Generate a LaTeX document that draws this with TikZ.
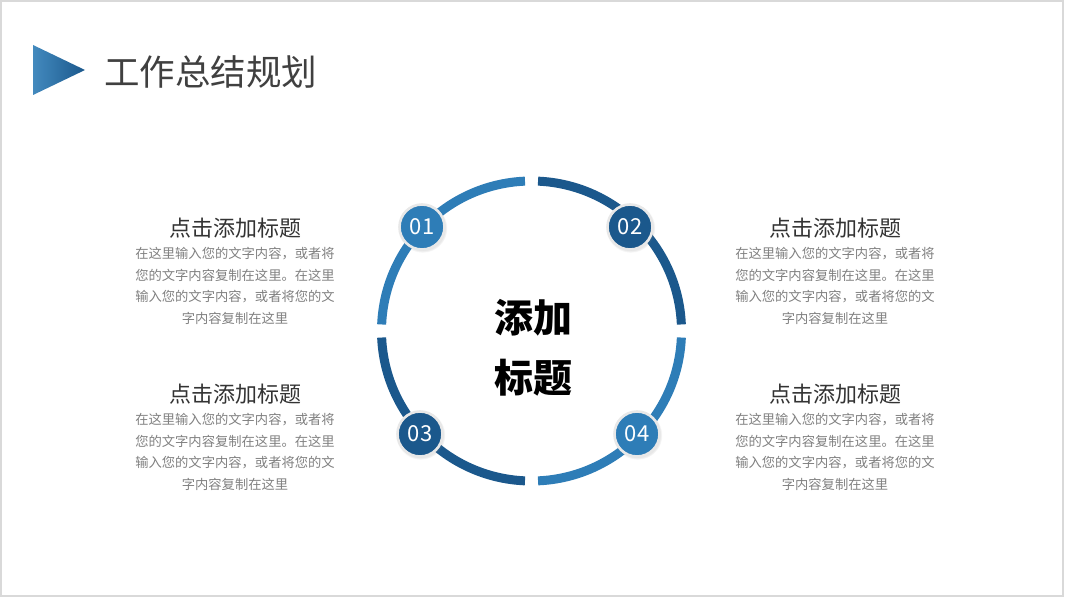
\documentclass[tikz,border=0pt]{standalone}
\usepackage{fontspec}
\setmainfont{Noto Sans CJK SC}
\usepackage{tikz}
\usetikzlibrary{positioning, shadows}

\definecolor{lightblue}{RGB}{46,125,183}
\definecolor{darkblue}{RGB}{27,88,140}
\definecolor{titlegray}{RGB}{64,64,64}
\definecolor{headgray}{RGB}{51,51,51}
\definecolor{bodygray}{RGB}{128,128,128}

\begin{document}
\begin{tikzpicture}[
  x=1pt, y=1pt,
  seg/.style={line width=9pt, #1},
  seg/.default={lightblue},
  num/.style={circle, fill=#1, draw=gray!18, line width=2.6pt,
    minimum size=45pt, inner sep=0pt, text=white,
    font=\fontsize{22}{22}\selectfont,
    circular drop shadow={shadow xshift=0.6pt, shadow yshift=-1pt, opacity=0.25}},
  num/.default={lightblue},
  head/.style={font=\fontsize{22}{22}\selectfont, text=headgray},
  body/.style={font=\fontsize{13.3}{21.5}\selectfont, text=bodygray,
    align=center, inner sep=0pt},
]
\useasboundingbox (0,0) rectangle (1067,600);

% --- frame and title ---
\draw[gray!30, line width=1.2pt] (1,4) rectangle (1063,599);
\shade[left color=lightblue!90!white, right color=darkblue]
  (33,555) -- (85,530) -- (33,505) -- cycle;
\node[font=\fontsize{35.5}{35.5}\selectfont, text=titlegray, anchor=west,
  inner sep=0pt] (title) at (104,528) {工作总结规划};

% --- ring ---
\coordinate (c) at (531.5,269);
\draw[seg=lightblue] ([shift={(92.5:150)}]c) arc[start angle=92.5, end angle=177.5, radius=150];
\draw[seg=darkblue]  ([shift={(182.5:150)}]c) arc[start angle=182.5, end angle=267.5, radius=150];
\draw[seg=lightblue] ([shift={(272.5:150)}]c) arc[start angle=272.5, end angle=357.5, radius=150];
\draw[seg=darkblue]  ([shift={(2.5:150)}]c) arc[start angle=2.5, end angle=87.5, radius=150];

\node[num=lightblue] (n1) at (422,373) {01};
\node[num=darkblue]  (n2) at (630,373) {02};
\node[num=darkblue]  (n3) at (420,166) {03};
\node[num=lightblue] (n4) at (637,166) {04};

\node[font=\fontsize{39}{60}\selectfont\bfseries, align=center] (mid) at (533,252)
  {添加\\标题};

% --- left texts ---
\node[head] (h1) at (235,372) {点击添加标题};
\node[body] (b1) at (235,314) {在这里输入您的文字内容，或者将\\您的文字内容复制在这里。在这里\\输入您的文字内容，或者将您的文\\字内容复制在这里};
\node[head] (h3) at (235,206) {点击添加标题};
\node[body] (b3) at (235,148) {在这里输入您的文字内容，或者将\\您的文字内容复制在这里。在这里\\输入您的文字内容，或者将您的文\\字内容复制在这里};

% --- right texts ---
\node[head] (h2) at (835,372) {点击添加标题};
\node[body] (b2) at (835,314) {在这里输入您的文字内容，或者将\\您的文字内容复制在这里。在这里\\输入您的文字内容，或者将您的文\\字内容复制在这里};
\node[head] (h4) at (835,206) {点击添加标题};
\node[body] (b4) at (835,148) {在这里输入您的文字内容，或者将\\您的文字内容复制在这里。在这里\\输入您的文字内容，或者将您的文\\字内容复制在这里};

\end{tikzpicture}
\end{document}
